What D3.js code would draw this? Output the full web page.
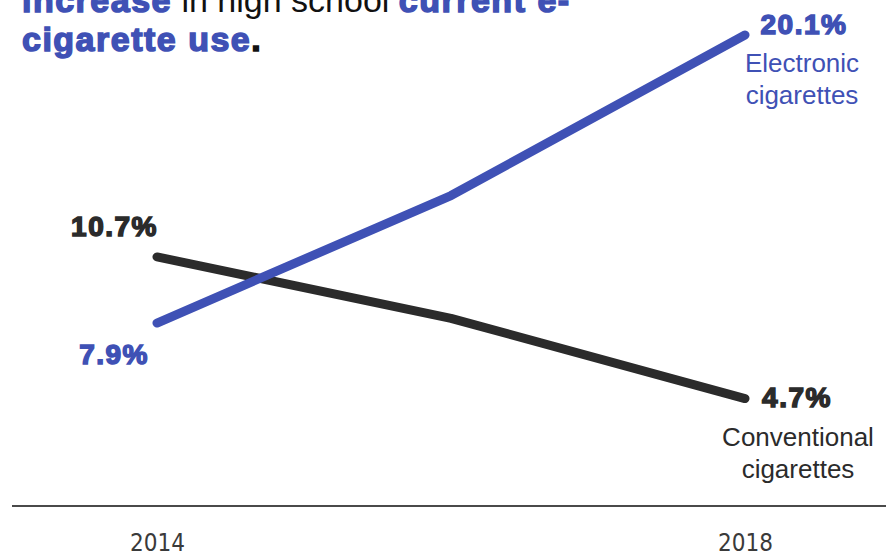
<!DOCTYPE html>
<html>
<head>
<meta charset="utf-8">
<script src="https://cdn.jsdelivr.net/npm/d3@7"></script>
<style>
  html, body { margin: 0; padding: 0; background: #fff; }
  svg { display: block; }
</style>
</head>
<body>
<svg id="chart" width="886" height="558"></svg>
<script>
// ---- data ----
const years = [2014, 2016, 2018];
const tickYears = [2014, 2018];
const eCigValues = [7.9, 13.3, 20.1];
const cigValues = [10.7, 8.1, 4.7];
const seriesNames = ["Electronic", "Conventional"];
const titleLine1 = [
  { t: "increase", kind: "bold" },
  { t: " in high school ", kind: "reg" },
  { t: "current e-", kind: "bold" }
];
const titleLine2 = [
  { t: "cigarette use", kind: "bold" },
  { t: ".", kind: "dot" }
];

const BLUE = "#3f51b5";
const BLACK = "#2b2b2b";

const svg = d3.select("#chart");
const x = d3.scaleLinear().domain([2014, 2018]).range([157, 745]);
const y = d3.scaleLinear().domain([0, 20.1]).range([509.5, 35]);

// baseline axis line
svg.append("line")
  .attr("x1", 12).attr("x2", 886)
  .attr("y1", 506).attr("y2", 506)
  .attr("stroke", "#4a4a4a").attr("stroke-width", 2);

// year tick labels via axis
const axis = d3.axisBottom(x).tickValues(tickYears).tickFormat(d3.format("d")).tickSize(0);
const ag = svg.append("g").attr("transform", "translate(0,529)").call(axis);
ag.select(".domain").remove();
ag.selectAll("text")
  .attr("dy", "0.8em")
  .attr("font-family", "'DejaVu Sans Condensed', 'Liberation Sans Narrow', 'DejaVu Sans', sans-serif")
  .attr("font-size", 24)
  .attr("fill", "#3a3a3a");

// lines
const line = d3.line().x((d, i) => x(years[i])).y(d => y(d));
svg.append("path").datum(cigValues)
  .attr("d", line).attr("fill", "none")
  .attr("stroke", BLACK).attr("stroke-width", 9)
  .attr("stroke-linecap", "round").attr("stroke-linejoin", "round");
svg.append("path").datum(eCigValues)
  .attr("d", line).attr("fill", "none")
  .attr("stroke", BLUE).attr("stroke-width", 9)
  .attr("stroke-linecap", "round").attr("stroke-linejoin", "round");

// heavy value labels
function heavy(txt, xx, yy, color, anchor) {
  svg.append("text")
    .attr("x", xx).attr("y", yy)
    .attr("text-anchor", anchor)
    .attr("font-family", "'Liberation Sans', Arial, sans-serif")
    .attr("font-weight", "bold")
    .attr("font-size", 28)
    .attr("letter-spacing", "1.5px")
    .attr("fill", color)
    .attr("stroke", color).attr("stroke-width", 1.5)
    .attr("paint-order", "stroke")
    .text(txt);
}
function reg(txt, xx, yy, color) {
  svg.append("text")
    .attr("x", xx).attr("y", yy)
    .attr("text-anchor", "middle")
    .attr("font-family", "'Liberation Sans', Arial, sans-serif")
    .attr("font-size", 26)
    .attr("fill", color)
    .text(txt);
}
const fmt = v => v.toFixed(1) + "%";
const n = years.length - 1;
heavy(fmt(cigValues[0]), x(years[0]) + 1, y(cigValues[0]) - 21, BLACK, "end");
heavy(fmt(eCigValues[0]), x(years[0]) - 8, y(eCigValues[0]) + 41, BLUE, "end");
heavy(fmt(eCigValues[n]), x(years[n]) + 59, y(eCigValues[n]) - 1, BLUE, "middle");
reg(seriesNames[0], x(years[n]) + 57, y(eCigValues[n]) + 37, BLUE);
reg("cigarettes", x(years[n]) + 57, y(eCigValues[n]) + 69, BLUE);
heavy(fmt(cigValues[n]), x(years[n]) + 52, y(cigValues[n]) + 8, BLACK, "middle");
reg(seriesNames[1], x(years[n]) + 53, y(cigValues[n]) + 47, BLACK);
reg("cigarettes", x(years[n]) + 53, y(cigValues[n]) + 79, BLACK);

// title (cut off at top, as in the reference)
function titleLine(parts, yy) {
  const t = svg.append("text").attr("x", 22).attr("y", yy)
    .attr("font-family", "'Liberation Sans', Arial, sans-serif")
    .attr("font-size", 34);
  parts.forEach(p => {
    const s = t.append("tspan").text(p.t);
    if (p.kind === "bold") {
      s.attr("font-weight", "bold").attr("fill", BLUE)
       .attr("stroke", BLUE).attr("stroke-width", 1.5)
       .attr("letter-spacing", "1.5px");
    } else if (p.kind === "dot") {
      s.attr("font-weight", "bold").attr("fill", "#111")
       .attr("stroke", "#111").attr("stroke-width", 1.5);
    } else {
      s.attr("fill", "#111");
    }
  });
}
titleLine(titleLine1, 12);
titleLine(titleLine2, 51);
</script>
</body>
</html>
